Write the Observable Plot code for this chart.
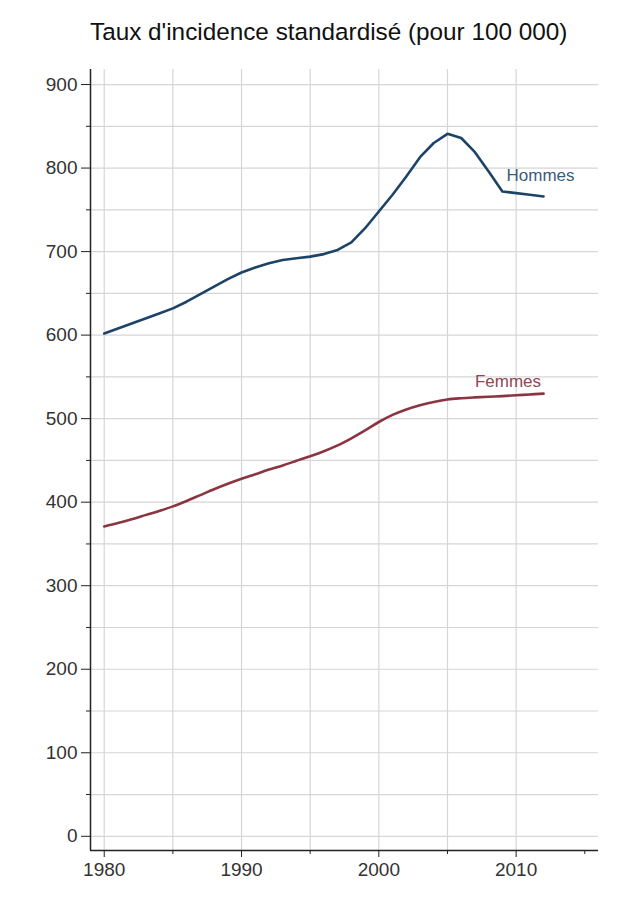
<!DOCTYPE html>
<html>
<head>
<meta charset="utf-8">
<script src="https://cdn.jsdelivr.net/npm/d3@7"></script>
<script src="https://cdn.jsdelivr.net/npm/@observablehq/plot@0.6"></script>
<style>
  html, body { margin: 0; padding: 0; background: #fff; }
  body { width: 640px; font-family: "Liberation Sans", Arial, sans-serif; }
  #title { height: 60px; line-height: 63px; padding-left: 90px; font-size: 24.3px; color: #111; white-space: nowrap; }
</style>
</head>
<body>
<div id="title">Taux d'incidence standardisé (pour 100 000)</div>
<div id="chart"></div>
<script>
const years = d3.range(1980, 2013);
const hommes = [602, 608, 614, 620, 626, 632, 640, 649, 658, 667, 675, 681, 686, 690, 692, 694, 697, 702, 711, 728, 748, 768, 790, 813, 830, 841, 836, 819, 796, 772, 770, 768, 766];
const femmes = [371, 375, 379.5, 384.5, 389.5, 395, 401.5, 408.5, 415.5, 422, 428, 433.5, 439, 444, 449.5, 455, 461, 468, 476.5, 486, 496, 504.5, 511, 516, 520, 523, 524.5, 525.5, 526.3, 527, 528, 529, 530];
const seriesNames = ["Hommes", "Femmes"];
const seriesColors = ["#1d4468", "#8b3541"];
const labelColors = ["#3c5b7b", "#8e4753"];
const labelX = [2009.3, 2007.0];
const labelY = [791, 545];
const yMajor = d3.range(0, 901, 100);
const yMinor = d3.range(50, 900, 100);
const yGrid = d3.range(0, 901, 50);
const xMajor = [1980, 1990, 2000, 2010];
const xMinor = [1985, 1995, 2005, 2015];
const xGrid = d3.range(1980, 2011, 5);
const xDomain = [1979, 2016];
const yDomain = [-17, 918];

const hRows = years.map((yr, i) => ({year: yr, value: hommes[i], serie: seriesNames[0]}));
const fRows = years.map((yr, i) => ({year: yr, value: femmes[i], serie: seriesNames[1]}));
const labels = seriesNames.map((s, i) => ({serie: s, x: labelX[i], y: labelY[i], color: labelColors[i]}));

const chart = Plot.plot({
  width: 640,
  height: 841,
  marginLeft: 90,
  marginRight: 42,
  marginTop: 9,
  marginBottom: 51,
  style: {fontFamily: "'Liberation Sans', Arial, sans-serif", background: "#fff"},
  x: {domain: xDomain, label: null},
  y: {domain: yDomain, label: null},
  color: {domain: seriesNames, range: seriesColors},
  marks: [
    Plot.gridY(yGrid, {stroke: "#d6d6d6", strokeOpacity: 1, strokeWidth: 1.2}),
    Plot.gridX(xGrid, {stroke: "#d6d6d6", strokeOpacity: 1, strokeWidth: 1.2}),
    Plot.axisY(yMajor, {tickSize: 9, tickPadding: 4, fontSize: 19, color: "#333", stroke: "#222", tickFormat: d => String(d)}),
    Plot.axisY(yMinor, {tickSize: 4, stroke: "#222", text: null}),
    Plot.axisX(xMajor, {tickSize: 7, tickPadding: 5, fontSize: 19, color: "#333", stroke: "#222", tickFormat: d => String(d)}),
    Plot.axisX(xMinor, {tickSize: 4, stroke: "#222", text: null}),
    Plot.ruleX([xDomain[0]], {stroke: "#222", strokeWidth: 1.5}),
    Plot.ruleY([yDomain[0]], {stroke: "#222", strokeWidth: 1.5}),
    Plot.line(hRows, {x: "year", y: "value", stroke: "serie", strokeWidth: 2.6, curve: "linear"}),
    Plot.line(fRows, {x: "year", y: "value", stroke: "serie", strokeWidth: 2.6, curve: "monotone-x"}),
    Plot.text(labels, {x: "x", y: "y", text: "serie", fill: "color", textAnchor: "start", fontSize: 17})
  ]
});
document.getElementById("chart").appendChild(chart);
</script>
</body>
</html>
